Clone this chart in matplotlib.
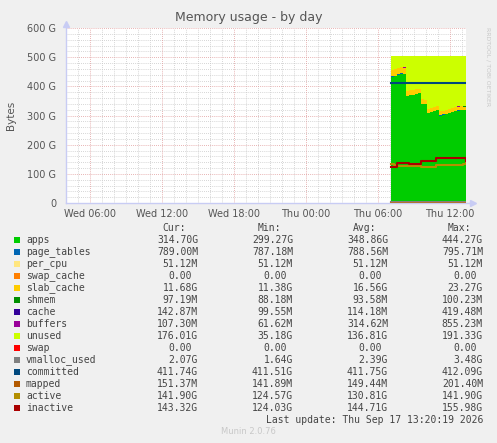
import matplotlib
matplotlib.use('Agg')
import matplotlib.pyplot as plt
import numpy as np
from matplotlib.patches import Rectangle

W, H = 497, 443

## samples (Thu), values in GB
times = ['07:05', '07:20', '07:35', '07:50', '08:05', '08:20', '08:35', '08:50',
         '09:05', '09:20', '09:35', '09:50', '10:05', '10:20', '10:35', '10:50',
         '11:05', '11:20', '11:35', '11:50', '12:05', '12:20', '12:35', '12:50',
         '13:05', '13:20']
apps = [433, 436, 440, 444, 442, 367, 369, 371, 373, 376, 340, 339, 307,
        311, 315, 318, 300, 303, 306, 309, 312, 315, 317, 319, 318, 314.7]
page_tables = [0.79, 0.79, 0.79, 0.80, 0.79, 0.79, 0.79, 0.79, 0.79, 0.79, 0.79, 0.79, 0.79,
               0.79, 0.79, 0.79, 0.79, 0.79, 0.79, 0.79, 0.79, 0.79, 0.79, 0.79, 0.79, 0.79]
per_cpu = [0.05] * 26
swap_cache = [0.0] * 26
slab_cache = [23.0, 22.6, 22.2, 21.8, 21.4, 17.0, 16.5, 16.0, 15.6, 15.2, 14.6, 14.2, 13.8,
              13.6, 13.4, 13.2, 13.0, 13.0, 12.9, 12.8, 12.7, 12.6, 12.4, 12.2, 12.0, 11.68]
shmem = [0.09, 0.09, 0.09, 0.10, 0.09, 0.09, 0.09, 0.09, 0.09, 0.09, 0.09, 0.09, 0.09,
         0.09, 0.09, 0.09, 0.09, 0.09, 0.09, 0.09, 0.09, 0.09, 0.09, 0.09, 0.09, 0.10]
cache = [0.10, 0.11, 0.42, 0.12, 0.11, 0.10, 0.11, 0.11, 0.10, 0.11, 0.11, 0.10, 0.11,
         0.11, 0.12, 0.11, 0.11, 0.10, 0.11, 0.11, 0.11, 0.12, 0.11, 0.11, 0.12, 0.14]
buffers = [0.20, 0.30, 0.86, 0.40, 0.20, 0.10, 0.80, 0.30, 0.10, 0.10, 0.10, 0.10, 0.10,
           0.10, 0.10, 0.70, 0.10, 0.10, 0.10, 0.10, 0.10, 0.60, 0.50, 0.30, 0.10, 0.11]
unused = [46.35, 43.75, 40.15, 36.55, 38.95, 118.35, 116.85, 115.35, 113.75, 111.15,
          147.75, 149.15, 181.55, 177.75, 173.95, 171.15, 189.35, 186.35, 183.45, 180.55,
          177.65, 174.75, 172.95, 171.15, 172.35, 175.97]
swap = [0.0] * 26
vmalloc_used = [2.4, 2.6, 3.4, 2.9, 2.5, 2.3, 2.4, 2.5, 2.4, 2.3, 2.3, 2.2, 2.2,
                2.3, 2.4, 2.3, 2.2, 2.1, 2.1, 2.2, 2.3, 2.2, 2.1, 2.1, 2.1, 2.07]
committed = [411.7, 411.8, 412.0, 411.9, 411.8, 411.7, 411.7, 411.8, 411.7, 411.7, 411.6,
             411.7, 411.7, 411.8, 411.7, 411.7, 411.6, 411.7, 411.7, 411.8, 411.7, 411.7,
             411.7, 411.8, 411.7, 411.74]
mapped = [0.15] * 26
active = [134, 130, 127, 127, 127, 127, 126, 126, 126, 126, 125, 125, 125,
          125, 125, 132, 132, 132, 132, 132, 132, 132, 132, 132, 133, 141.9]
inactive = [124, 124, 136, 136, 136, 136, 134, 134, 134, 134, 145, 145, 145,
            145, 145, 154, 154, 154, 155, 155, 155, 155, 155, 155, 155, 143.3]

# legend table
names = ['apps', 'page_tables', 'per_cpu', 'swap_cache', 'slab_cache', 'shmem', 'cache',
         'buffers', 'unused', 'swap', 'vmalloc_used', 'committed', 'mapped', 'active',
         'inactive']
colors = ['#00CC00', '#0066B3', '#FFE680', '#FF8000', '#FFCC00', '#008F00', '#330099',
          '#990099', '#CCFF00', '#FF0000', '#808080', '#00487D', '#B35A00', '#B38F00',
          '#AA0000']
cur = ['314.70G', '789.00M', '51.12M', '0.00', '11.68G', '97.19M', '142.87M', '107.30M',
       '176.01G', '0.00', '2.07G', '411.74G', '151.37M', '141.90G', '143.32G']
vmin = ['299.27G', '787.18M', '51.12M', '0.00', '11.38G', '88.18M', '99.55M', '61.62M',
        '35.18G', '0.00', '1.64G', '411.51G', '141.89M', '124.57G', '124.03G']
vavg = ['348.86G', '788.56M', '51.12M', '0.00', '16.56G', '93.58M', '114.18M', '314.62M',
        '136.81G', '0.00', '2.39G', '411.75G', '149.44M', '130.81G', '144.71G']
vmax = ['444.27G', '795.71M', '51.12M', '0.00', '23.27G', '100.23M', '419.48M', '855.23M',
        '191.33G', '0.00', '3.48G', '412.09G', '201.40M', '141.90G', '155.98G']

xticks = [-18, -12, -6, 0, 6, 12]
xticklabels = ['Wed 06:00', 'Wed 12:00', 'Wed 18:00', 'Thu 00:00', 'Thu 06:00', 'Thu 12:00']

t = np.array([int(s[:2]) + int(s[3:]) / 60 for s in times])

fig = plt.figure(figsize=(W / 100, H / 100), dpi=100, facecolor='#F0F0F0')
L, R, T, B = 66, 466, 28, 203
ax = fig.add_axes([L / W, 1 - B / H, (R - L) / W, (B - T) / H])
ax.set_facecolor('white')

stack = [apps, page_tables, per_cpu, swap_cache, slab_cache, shmem, cache, buffers, unused, swap]
base = np.zeros(len(t))
for vals, c in zip(stack, colors[:10]):
    v = np.array(vals)
    ax.fill_between(t, base, base + v, step='post', color=c, linewidth=0, zorder=2)
    base = base + v

for vals, c in zip([vmalloc_used, committed, mapped, active, inactive], colors[10:]):
    ax.step(t, vals, where='post', color=c, linewidth=1.5, zorder=3)

ax.set_xlim(-20, 13.3333)
ax.set_ylim(0, 600)

# grid
gmin = dict(color='#C8C8C8', linewidth=0.6, linestyle=(0, (1, 1.5)), zorder=1)
gmaj = dict(color='#E09A9A', linewidth=0.6, linestyle=(0, (1, 1.5)), zorder=1.5)
for y in range(20, 600, 20):
    if y % 100:
        ax.axhline(y, **gmin)
for y in range(100, 601, 100):
    ax.axhline(y, **gmaj)
for x in range(-19, 14):
    if x % 6:
        ax.axvline(x, **gmin)
for x in xticks:
    ax.axvline(x, **gmaj)

for s in ax.spines.values():
    s.set_visible(False)
axc = '#C8CCF4'
ax.plot([-20, -20], [0, 612], color=axc, lw=1, clip_on=False, zorder=4)
ax.plot([-20, 13.9], [0, 0], color=axc, lw=1, clip_on=False, zorder=4)
ax.plot([-20], [612], marker='^', color=axc, ms=4, clip_on=False, zorder=4)
ax.plot([13.9], [0], marker='>', color=axc, ms=4, clip_on=False, zorder=4)

tc = '#555555'
ax.set_yticks(range(0, 601, 100))
ax.set_yticklabels(['0', '100 G', '200 G', '300 G', '400 G', '500 G', '600 G'])
ax.set_xticks(xticks)
ax.set_xticklabels(xticklabels)
ax.tick_params(axis='both', length=0, labelsize=7, colors=tc)
ax.tick_params(axis='y', pad=7)
ax.tick_params(axis='x', pad=4)

def fx(x):
    return x / W

def fy(y):
    return 1 - y / H

fig.text(fx(249), fy(18), 'Memory usage - by day', ha='center', va='center',
         fontsize=9, color=tc)
fig.text(fx(11), fy(115), 'Bytes', ha='center', va='center', rotation=90,
         fontsize=7.5, color=tc)
fig.text(fx(488), fy(27), 'RRDTOOL / TOBI OETIKER', ha='center', va='top', rotation=270,
         fontsize=4.4, color='#C8C8C8')

mono = dict(family='DejaVu Sans Mono', fontsize=7, color='#444444', va='center')
cols = [198, 293, 388, 483]
heads = ['Cur:', 'Min:', 'Avg:', 'Max:']
for x, h in zip(cols, heads):
    fig.text(fx(x - 12), fy(228), h, ha='right', **mono)
cw = 5.9
for i, n in enumerate(names):
    y = 240 + 12 * i
    fig.patches.append(Rectangle((fx(14), fy(y + 3)), 6 / W, 6 / H, transform=fig.transFigure,
                                 facecolor=colors[i], edgecolor='none'))
    fig.text(fx(26), fy(y), n, ha='left', **mono)
    for x, col in zip(cols, [cur, vmin, vavg, vmax]):
        s = col[i]
        off = 0 if s[-1].isalpha() else cw
        fig.text(fx(x - off), fy(y), s, ha='right', **mono)

fig.text(fx(483), fy(420), 'Last update: Thu Sep 17 13:20:19 2026', ha='right', **mono)
fig.text(fx(248), fy(432), 'Munin 2.0.76', ha='center', va='center', fontsize=6,
         color='#C8C8C8')

fig.savefig('out.png', dpi=100, facecolor=fig.get_facecolor())
